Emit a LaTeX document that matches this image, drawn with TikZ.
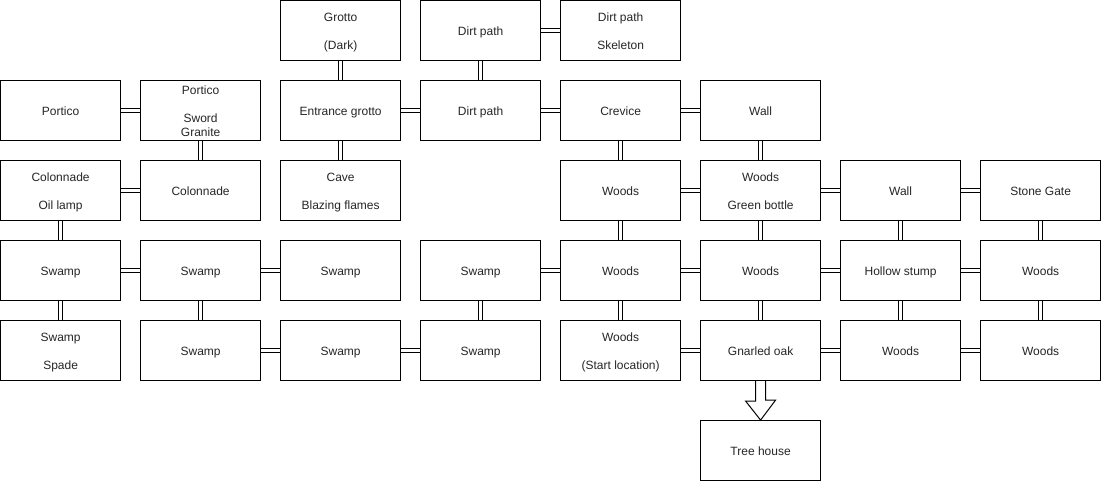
\documentclass[tikz,border=0pt]{standalone}
\usepackage{fontspec}
\usepackage{array}
\setmainfont{Liberation Sans}
\newcommand\rmstrut{\rule[-2pt]{0pt}{14pt}}
\newcommand\rt[1]{\renewcommand\arraystretch{0}\begin{tabular}{@{}>{\rmstrut}c@{}}#1\end{tabular}}
\begin{document}
\begin{tikzpicture}[x=1pt,y=-1pt,
  room/.style={draw=black, line width=1pt, fill=white, minimum width=120pt, minimum height=60pt,
    anchor=north west, inner sep=0pt, font=\fontsize{12pt}{14pt}\selectfont, text=black!85},
  link/.style={draw=black, line width=1pt, double=white, double distance=3pt},
  bigarrow/.style={draw=black, line width=1pt, fill=white}]
\useasboundingbox (0.4,0.4) rectangle (1101.4,481.4);
% row 0
\node[room] (grotto) at (280.5,0.5) {\rt{Grotto\\ \\(Dark)}};
\node[room] (dirtA) at (420.5,0.5) {\rt{Dirt path}};
\node[room] (dirtB) at (560.5,0.5) {\rt{Dirt path\\ \\Skeleton}};
% row 1
\node[room] (porticoA) at (0.5,80.5) {\rt{Portico}};
\node[room] (porticoB) at (140.5,80.5) {\rt{Portico\\ \\Sword\\Granite}};
\node[room] (entrance) at (280.5,80.5) {\rt{Entrance grotto}};
\node[room] (dirtC) at (420.5,80.5) {\rt{Dirt path}};
\node[room] (crevice) at (560.5,80.5) {\rt{Crevice}};
\node[room] (wallA) at (700.5,80.5) {\rt{Wall}};
% row 2
\node[room] (colA) at (0.5,160.5) {\rt{Colonnade\\ \\Oil lamp}};
\node[room] (colB) at (140.5,160.5) {\rt{Colonnade}};
\node[room] (cave) at (280.5,160.5) {\rt{Cave\\ \\Blazing flames}};
\node[room] (woodsA) at (560.5,160.5) {\rt{Woods}};
\node[room] (woodsB) at (700.5,160.5) {\rt{Woods\\ \\Green bottle}};
\node[room] (wallB) at (840.5,160.5) {\rt{Wall}};
\node[room] (gate) at (980.5,160.5) {\rt{Stone Gate}};
% row 3
\node[room] (swA) at (0.5,240.5) {\rt{Swamp}};
\node[room] (swB) at (140.5,240.5) {\rt{Swamp}};
\node[room] (swC) at (280.5,240.5) {\rt{Swamp}};
\node[room] (swD) at (420.5,240.5) {\rt{Swamp}};
\node[room] (woodsC) at (560.5,240.5) {\rt{Woods}};
\node[room] (woodsD) at (700.5,240.5) {\rt{Woods}};
\node[room] (stump) at (840.5,240.5) {\rt{Hollow stump}};
\node[room] (woodsE) at (980.5,240.5) {\rt{Woods}};
% row 4
\node[room] (swE) at (0.5,320.5) {\rt{Swamp\\ \\Spade}};
\node[room] (swF) at (140.5,320.5) {\rt{Swamp}};
\node[room] (swG) at (280.5,320.5) {\rt{Swamp}};
\node[room] (swH) at (420.5,320.5) {\rt{Swamp}};
\node[room] (start) at (560.5,320.5) {\rt{Woods\\ \\(Start location)}};
\node[room] (oak) at (700.5,320.5) {\rt{Gnarled oak}};
\node[room] (woodsF) at (840.5,320.5) {\rt{Woods}};
\node[room] (woodsG) at (980.5,320.5) {\rt{Woods}};
% tree house
\node[room] (tree) at (700.5,420.5) {\rt{Tree house}};
% horizontal links
\foreach \a/\b in {dirtA/dirtB, porticoA/porticoB, entrance/dirtC, dirtC/crevice, crevice/wallA,
  colA/colB, woodsA/woodsB, woodsB/wallB, wallB/gate,
  swA/swB, swB/swC, swD/woodsC, woodsC/woodsD, woodsD/stump, stump/woodsE,
  swF/swG, swG/swH, start/oak, oak/woodsF, woodsF/woodsG}
  \draw[link] (\a.east) -- (\b.west);
% vertical links
\foreach \a/\b in {grotto/entrance, dirtA/dirtC, porticoB/colB, entrance/cave, crevice/woodsA, wallA/woodsB,
  colA/swA, woodsA/woodsC, woodsB/woodsD, wallB/stump, gate/woodsE,
  swA/swE, swB/swF, swD/swH, woodsC/start, woodsD/oak, stump/woodsF, woodsE/woodsG}
  \draw[link] (\a.south) -- (\b.north);
% big arrow
\draw[bigarrow] ([xshift=-5pt]oak.south) -- ++(0,20) -- ++(-10,0) -- (tree.north) -- ++(15,-20) -- ++(-10,0) -- ([xshift=5pt]oak.south);
\end{tikzpicture}
\end{document}
